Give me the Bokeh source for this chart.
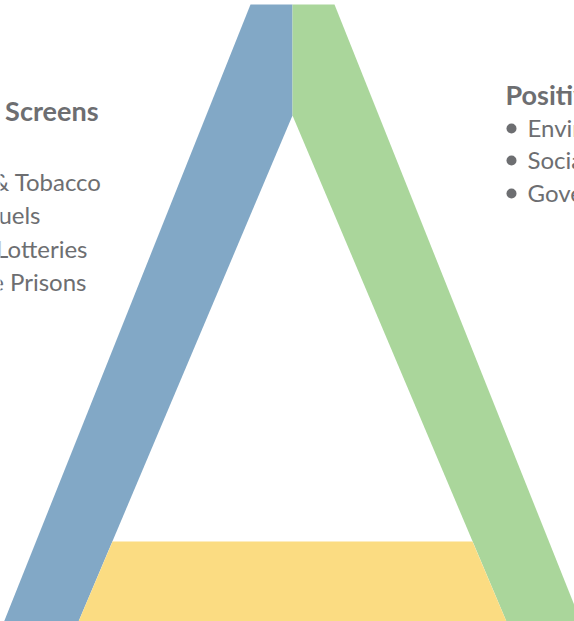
from bokeh.plotting import figure
from bokeh.models import Range1d
from bokeh.core.properties import value
from bokeh.embed import file_html
from bokeh.resources import INLINE

# Diagram geometry (reference pixel units, y grows downward)
blue_x = [250, 292, 292, 70, -4]
blue_y = [4, 4, 115, 640, 640]
green_x = [292, 334, 588, 514, 292]
green_y = [4, 4, 640, 640, 115]
yellow_x = [112, 472, 514, 70]
yellow_y = [541, 541, 640, 640]

# Texts
left_title = "Negative Screens"
left_items = ["\u2022 Alcohol & Tobacco", "\u2022 Fossil Fuels",
              "\u2022 Gaming & Lotteries", "\u2022 Private Prisons"]
left_item_end = [102, 40, 87, 86]
left_item_base = [181, 214, 248, 281]
right_title = "Positive Screens"
right_items = ["Environmental", "Social", "Governance"]
right_item_base = [127, 159, 192]

BLUE = "#82a8c6"
GREEN = "#aad69b"
YELLOW = "#fbdc82"
TEXT = "#6d6e71"
FONT = value("Lato")

p = figure(width=574, height=621, output_backend="svg", toolbar_location=None,
           x_range=Range1d(0, 574), y_range=Range1d(621, 0),
           min_border=0, outline_line_color=None)
p.axis.visible = False
p.grid.visible = False
p.background_fill_color = "white"

p.patches(xs=[blue_x, green_x, yellow_x], ys=[blue_y, green_y, yellow_y],
          fill_color=[BLUE, GREEN, YELLOW], line_color=None)

p.text(x=[98], y=[110], text=[left_title], text_align="right",
       text_baseline="alphabetic", text_font=FONT, text_font_style="bold",
       text_font_size="27px", text_color=TEXT)
p.text(x=left_item_end, y=left_item_base, text=left_items, text_align="right",
       text_baseline="alphabetic", text_font=FONT, text_font_size="24px",
       text_color=TEXT)

p.text(x=[505], y=[94], text=[right_title], text_align="left",
       text_baseline="alphabetic", text_font=FONT, text_font_style="bold",
       text_font_size="27px", text_color=TEXT)
p.scatter(x=[511] * len(right_items), y=[b + 1 for b in right_item_base],
          size=10, marker="circle", fill_color=TEXT, line_color=None)
p.text(x=[527] * len(right_items), y=right_item_base, text=right_items,
       text_align="left", text_baseline="alphabetic", text_font=FONT,
       text_font_size="24px", text_color=TEXT)

open("out.html", "w").write(file_html(p, INLINE))
